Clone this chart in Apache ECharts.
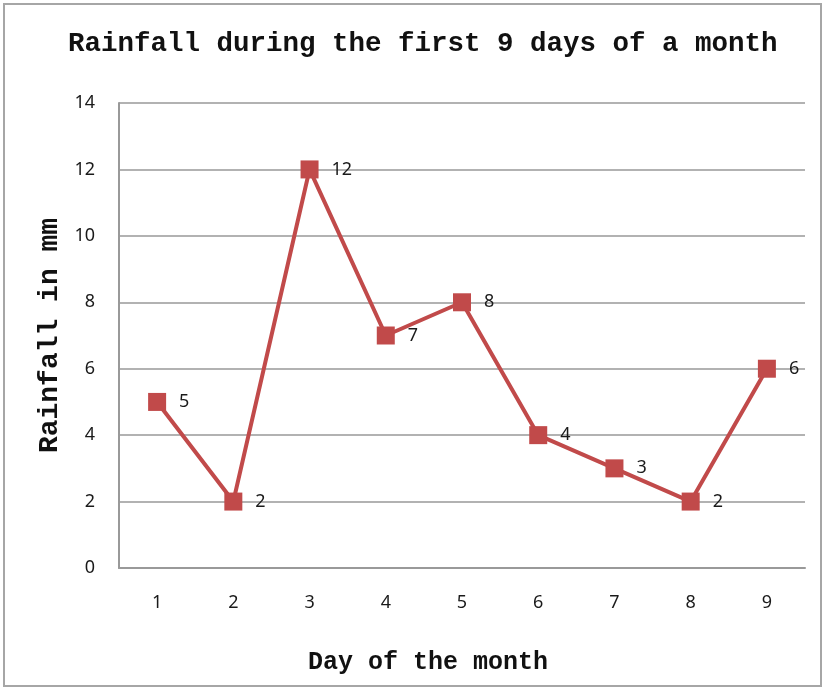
<!doctype html>
<html>
    <head>
        <meta charset="utf-8">
        <title>Rainfall during the first 9 days of a month</title>
        <style>
            html, body { margin: 0; padding: 0; background: #fff; }
            #main { width: 824px; height: 689px; }
        </style>
    </head>
    <body>
        <div id="main"></div>
        <script src="https://cdn.jsdelivr.net/npm/echarts@6/dist/echarts.min.js"></script>
        <script>
            var days = ['1', '2', '3', '4', '5', '6', '7', '8', '9'];
            var rainfall = [5, 2, 12, 7, 8, 4, 3, 2, 6];
            var yMin = 0, yMax = 14, yStep = 2;

            var red = '#c14a4a';
            var mono = '"Liberation Mono", "DejaVu Sans Mono", monospace';
            var sans = '"Noto Sans", "Open Sans", sans-serif';

            var chart = echarts.init(document.getElementById('main'));

            chart.setOption({
                animation: false,
                backgroundColor: '#fff',
                title: {
                    text: 'Rainfall during the first 9 days of a month',
                    left: 63,
                    top: 25,
                    textStyle: {
                        fontFamily: mono,
                        fontWeight: 'bold',
                        fontSize: 27.5,
                        color: '#111'
                    }
                },
                graphic: [{
                    type: 'rect',
                    shape: { x: 4, y: 4, width: 817, height: 682 },
                    style: { fill: 'none', stroke: '#a6a6a6', lineWidth: 2 },
                    silent: true
                }],
                grid: {
                    left: 119,
                    right: 19,
                    top: 103,
                    bottom: 121
                },
                xAxis: {
                    type: 'category',
                    data: days,
                    boundaryGap: true,
                    name: 'Day of the month',
                    nameLocation: 'middle',
                    nameGap: 82,
                    nameTextStyle: {
                        fontFamily: mono,
                        fontWeight: 'bold',
                        fontSize: 25,
                        color: '#111',
                        padding: [0, 68, 0, 0]
                    },
                    axisLine: { lineStyle: { color: '#999', width: 2 } },
                    axisTick: { show: false },
                    axisLabel: {
                        margin: 26,
                        fontFamily: sans,
                        fontSize: 18,
                        color: '#1a1a1a'
                    }
                },
                yAxis: {
                    type: 'value',
                    min: yMin,
                    max: yMax,
                    interval: yStep,
                    name: 'Rainfall in mm',
                    nameLocation: 'middle',
                    nameGap: 51,
                    nameTextStyle: {
                        fontFamily: mono,
                        fontWeight: 'bold',
                        fontSize: 28,
                        color: '#111'
                    },
                    axisLine: { show: true, lineStyle: { color: '#999', width: 2 } },
                    axisTick: { show: false },
                    axisLabel: {
                        margin: 24,
                        fontFamily: sans,
                        fontSize: 18,
                        color: '#1a1a1a'
                    },
                    splitLine: { lineStyle: { color: '#999', width: 1.5 } }
                },
                series: [{
                    type: 'line',
                    data: rainfall,
                    symbol: 'rect',
                    symbolSize: 18,
                    itemStyle: { color: red },
                    lineStyle: { color: red, width: 4 },
                    label: {
                        show: true,
                        position: 'right',
                        distance: 13,
                        fontFamily: sans,
                        fontSize: 18,
                        color: '#1a1a1a'
                    }
                }]
            });

            window.onresize = chart.resize;
        </script>
    </body>
</html>
